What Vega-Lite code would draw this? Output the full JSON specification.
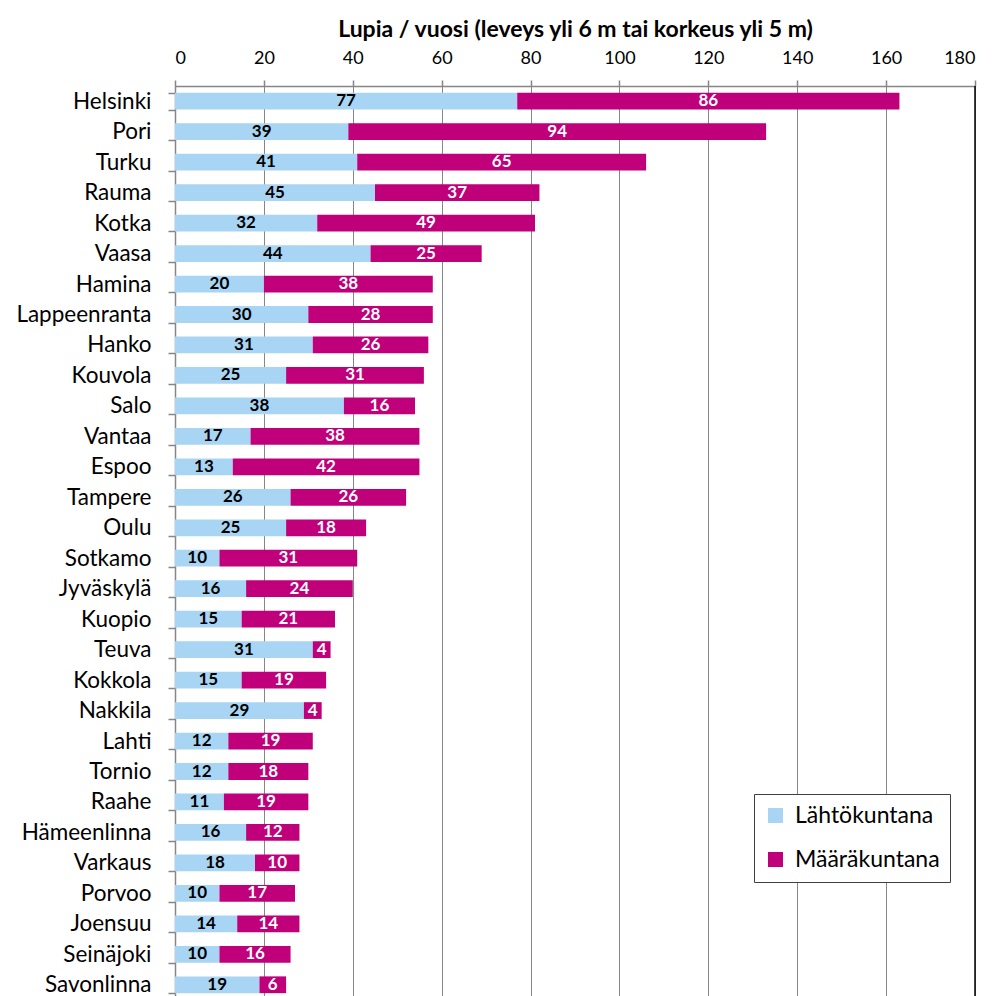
{
  "$schema": "https://vega.github.io/schema/vega-lite/v6.json",
  "autosize": {"type": "none"},
  "width": 800,
  "height": 914,
  "padding": {"left": 175, "top": 86, "right": 18, "bottom": 0},
  "background": "white",
  "config": {"font": "Lato", "view": {"stroke": null}},
  "data": {"values": [
    {"kunta": "Helsinki", "tyyppi": "Lähtökuntana", "lupia": 77}, {"kunta": "Helsinki", "tyyppi": "Määräkuntana", "lupia": 86},
    {"kunta": "Pori", "tyyppi": "Lähtökuntana", "lupia": 39}, {"kunta": "Pori", "tyyppi": "Määräkuntana", "lupia": 94},
    {"kunta": "Turku", "tyyppi": "Lähtökuntana", "lupia": 41}, {"kunta": "Turku", "tyyppi": "Määräkuntana", "lupia": 65},
    {"kunta": "Rauma", "tyyppi": "Lähtökuntana", "lupia": 45}, {"kunta": "Rauma", "tyyppi": "Määräkuntana", "lupia": 37},
    {"kunta": "Kotka", "tyyppi": "Lähtökuntana", "lupia": 32}, {"kunta": "Kotka", "tyyppi": "Määräkuntana", "lupia": 49},
    {"kunta": "Vaasa", "tyyppi": "Lähtökuntana", "lupia": 44}, {"kunta": "Vaasa", "tyyppi": "Määräkuntana", "lupia": 25},
    {"kunta": "Hamina", "tyyppi": "Lähtökuntana", "lupia": 20}, {"kunta": "Hamina", "tyyppi": "Määräkuntana", "lupia": 38},
    {"kunta": "Lappeenranta", "tyyppi": "Lähtökuntana", "lupia": 30}, {"kunta": "Lappeenranta", "tyyppi": "Määräkuntana", "lupia": 28},
    {"kunta": "Hanko", "tyyppi": "Lähtökuntana", "lupia": 31}, {"kunta": "Hanko", "tyyppi": "Määräkuntana", "lupia": 26},
    {"kunta": "Kouvola", "tyyppi": "Lähtökuntana", "lupia": 25}, {"kunta": "Kouvola", "tyyppi": "Määräkuntana", "lupia": 31},
    {"kunta": "Salo", "tyyppi": "Lähtökuntana", "lupia": 38}, {"kunta": "Salo", "tyyppi": "Määräkuntana", "lupia": 16},
    {"kunta": "Vantaa", "tyyppi": "Lähtökuntana", "lupia": 17}, {"kunta": "Vantaa", "tyyppi": "Määräkuntana", "lupia": 38},
    {"kunta": "Espoo", "tyyppi": "Lähtökuntana", "lupia": 13}, {"kunta": "Espoo", "tyyppi": "Määräkuntana", "lupia": 42},
    {"kunta": "Tampere", "tyyppi": "Lähtökuntana", "lupia": 26}, {"kunta": "Tampere", "tyyppi": "Määräkuntana", "lupia": 26},
    {"kunta": "Oulu", "tyyppi": "Lähtökuntana", "lupia": 25}, {"kunta": "Oulu", "tyyppi": "Määräkuntana", "lupia": 18},
    {"kunta": "Sotkamo", "tyyppi": "Lähtökuntana", "lupia": 10}, {"kunta": "Sotkamo", "tyyppi": "Määräkuntana", "lupia": 31},
    {"kunta": "Jyväskylä", "tyyppi": "Lähtökuntana", "lupia": 16}, {"kunta": "Jyväskylä", "tyyppi": "Määräkuntana", "lupia": 24},
    {"kunta": "Kuopio", "tyyppi": "Lähtökuntana", "lupia": 15}, {"kunta": "Kuopio", "tyyppi": "Määräkuntana", "lupia": 21},
    {"kunta": "Teuva", "tyyppi": "Lähtökuntana", "lupia": 31}, {"kunta": "Teuva", "tyyppi": "Määräkuntana", "lupia": 4},
    {"kunta": "Kokkola", "tyyppi": "Lähtökuntana", "lupia": 15}, {"kunta": "Kokkola", "tyyppi": "Määräkuntana", "lupia": 19},
    {"kunta": "Nakkila", "tyyppi": "Lähtökuntana", "lupia": 29}, {"kunta": "Nakkila", "tyyppi": "Määräkuntana", "lupia": 4},
    {"kunta": "Lahti", "tyyppi": "Lähtökuntana", "lupia": 12}, {"kunta": "Lahti", "tyyppi": "Määräkuntana", "lupia": 19},
    {"kunta": "Tornio", "tyyppi": "Lähtökuntana", "lupia": 12}, {"kunta": "Tornio", "tyyppi": "Määräkuntana", "lupia": 18},
    {"kunta": "Raahe", "tyyppi": "Lähtökuntana", "lupia": 11}, {"kunta": "Raahe", "tyyppi": "Määräkuntana", "lupia": 19},
    {"kunta": "Hämeenlinna", "tyyppi": "Lähtökuntana", "lupia": 16}, {"kunta": "Hämeenlinna", "tyyppi": "Määräkuntana", "lupia": 12},
    {"kunta": "Varkaus", "tyyppi": "Lähtökuntana", "lupia": 18}, {"kunta": "Varkaus", "tyyppi": "Määräkuntana", "lupia": 10},
    {"kunta": "Porvoo", "tyyppi": "Lähtökuntana", "lupia": 10}, {"kunta": "Porvoo", "tyyppi": "Määräkuntana", "lupia": 17},
    {"kunta": "Joensuu", "tyyppi": "Lähtökuntana", "lupia": 14}, {"kunta": "Joensuu", "tyyppi": "Määräkuntana", "lupia": 14},
    {"kunta": "Seinäjoki", "tyyppi": "Lähtökuntana", "lupia": 10}, {"kunta": "Seinäjoki", "tyyppi": "Määräkuntana", "lupia": 16},
    {"kunta": "Savonlinna", "tyyppi": "Lähtökuntana", "lupia": 19}, {"kunta": "Savonlinna", "tyyppi": "Määräkuntana", "lupia": 6}
  ]},
  "transform": [
    {"stack": "lupia", "groupby": ["kunta"], "sort": [{"field": "tyyppi", "order": "ascending"}], "as": ["x0", "x1"]},
    {"calculate": "(datum.x0 + datum.x1) / 2", "as": "xm"}
  ],
  "layer": [
    {
      "mark": {"type": "bar"},
      "encoding": {
        "y": {
          "field": "kunta", "type": "nominal",
          "sort": ["Helsinki","Pori","Turku","Rauma","Kotka","Vaasa","Hamina","Lappeenranta","Hanko","Kouvola","Salo","Vantaa","Espoo","Tampere","Oulu","Sotkamo","Jyväskylä","Kuopio","Teuva","Kokkola","Nakkila","Lahti","Tornio","Raahe","Hämeenlinna","Varkaus","Porvoo","Joensuu","Seinäjoki","Savonlinna"],
          "scale": {"paddingInner": 0.45, "paddingOuter": 0.225},
          "axis": {
            "title": null, "labelFontSize": 22.5, "labelColor": "#000000", "labelPadding": 17,
            "tickBand": "extent", "tickSize": 7, "tickColor": "#868686", "domainColor": "#868686",
            "domainWidth": 1.5, "tickWidth": 1.5
          }
        },
        "x": {
          "field": "x0", "type": "quantitative",
          "scale": {"domain": [0, 180], "nice": false},
          "axis": {
            "orient": "top", "values": [0,20,40,60,80,100,120,140,160,180],
            "title": "Lupia / vuosi (leveys yli 6 m tai korkeus yli 5 m)",
            "titleFontSize": 23, "titleFontWeight": "bold", "titleColor": "#000000", "titlePadding": 8,
            "labelFontSize": 18, "labelColor": "#000000", "labelPadding": 13,
            "grid": true, "gridColor": "#868686", "gridWidth": 1,
            "domainColor": "#868686", "domainWidth": 1.5, "tickColor": "#868686", "tickSize": 6, "tickWidth": 1.5
          }
        },
        "x2": {"field": "x1"},
        "color": {
          "field": "tyyppi", "type": "nominal",
          "scale": {"domain": ["Lähtökuntana", "Määräkuntana"], "range": ["#A9D5F4", "#C0007A"]},
          "legend": {
            "title": null, "orient": "none", "legendX": 579, "legendY": 708,
            "strokeColor": "#404040", "fillColor": "#ffffff", "padding": 10,
            "symbolType": "square", "symbolSize": 225, "symbolStrokeWidth": 0,
            "labelFontSize": 23, "labelColor": "#000000", "rowPadding": 20, "labelOffset": 8
          }
        }
      }
    },
    {
      "mark": {"type": "text", "fontWeight": "bold", "fontSize": 17, "baseline": "middle", "align": "center"},
      "encoding": {
        "y": {"field": "kunta", "type": "nominal", "sort": ["Helsinki","Pori","Turku","Rauma","Kotka","Vaasa","Hamina","Lappeenranta","Hanko","Kouvola","Salo","Vantaa","Espoo","Tampere","Oulu","Sotkamo","Jyväskylä","Kuopio","Teuva","Kokkola","Nakkila","Lahti","Tornio","Raahe","Hämeenlinna","Varkaus","Porvoo","Joensuu","Seinäjoki","Savonlinna"]},
        "x": {"field": "xm", "type": "quantitative"},
        "text": {"field": "lupia", "type": "quantitative"},
        "color": {"condition": {"test": "datum.tyyppi === 'Määräkuntana'", "value": "#ffffff"}, "value": "#000000"}
      }
    },
    {
      "data": {"values": [{"v": 180}]},
      "mark": {"type": "rule", "color": "#000000", "strokeWidth": 1.5},
      "encoding": {"x": {"field": "v", "type": "quantitative"}}
    }
  ]
}
